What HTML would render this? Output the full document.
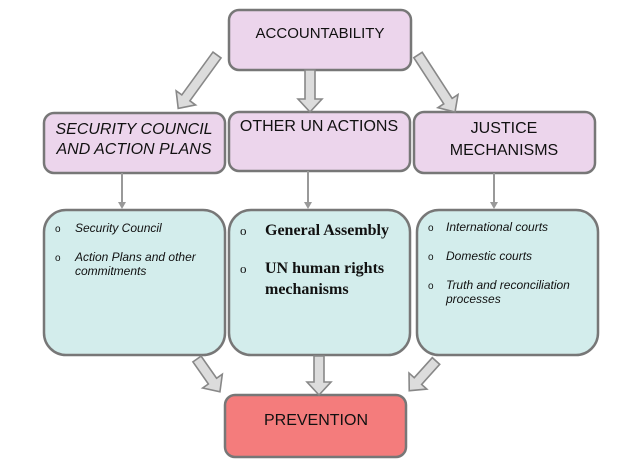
<!DOCTYPE html>
<html><head><meta charset="utf-8"><style>
html,body{margin:0;padding:0;background:#fff;width:639px;height:465px;overflow:hidden}
svg{display:block}
text{font-family:"Liberation Sans",sans-serif;fill:#111}
.serif{font-family:"Liberation Serif",serif}
</style></head><body>
<svg width="639" height="465" viewBox="0 0 639 465" xmlns="http://www.w3.org/2000/svg">
<defs>
<g id="fa"><polygon points="-5,0 5,0 5,-13 12,-13 0,0 -12,-13 -5,-13" transform="scale(1,-1)" /></g>
</defs>
<!-- boxes -->
<g stroke="#777" stroke-width="2.5">
<rect x="229" y="10" width="182" height="60" rx="10" fill="#ecd5ec"/>
<rect x="44" y="113" width="181" height="60" rx="10" fill="#ecd5ec"/>
<rect x="229" y="112" width="181" height="59" rx="10" fill="#ecd5ec"/>
<rect x="414" y="112" width="181" height="61" rx="10" fill="#ecd5ec"/>
<rect x="44" y="210" width="181" height="145" rx="22" fill="#d3edec"/>
<rect x="229" y="210" width="181" height="145" rx="22" fill="#d3edec"/>
<rect x="417" y="210" width="181" height="145" rx="22" fill="#d3edec"/>
<rect x="225" y="395" width="181" height="62" rx="10" fill="#f47c7c"/>
</g>
<!-- thin arrows -->
<g stroke="#999" stroke-width="2" fill="#999">
<line x1="122" y1="173" x2="122" y2="203"/><polygon points="118,202 126,202 122,209" stroke="none"/>
<line x1="308" y1="171" x2="308" y2="203"/><polygon points="304,202 312,202 308,209" stroke="none"/>
<line x1="494" y1="173" x2="494" y2="203"/><polygon points="490,202 498,202 494,209" stroke="none"/>
</g>
<!-- fat arrows: shaft from 0 to L-13 along +y -->
<g fill="#dcdcdc" stroke="#888" stroke-width="1.6" stroke-linejoin="miter">
<polygon transform="translate(217,55) rotate(36)" points="-5,0 5,0 5,53 12,53 0,66 -12,53 -5,53"/>
<polygon transform="translate(310,70)" points="-5,0 5,0 5,29 12,29 0,42 -12,29 -5,29"/>
<polygon transform="translate(418,55) rotate(-33)" points="-5,0 5,0 5,55 12,55 0,68 -12,55 -5,55"/>
<polygon transform="translate(197,359) rotate(-35)" points="-5,0 5,0 5,27 12,27 0,40 -12,27 -5,27"/>
<polygon transform="translate(319,356)" points="-5,0 5,0 5,26 12,26 0,39 -12,26 -5,26"/>
<polygon transform="translate(436,361) rotate(42)" points="-5,0 5,0 5,27 12,27 0,40 -12,27 -5,27"/>
</g>
<!-- labels -->
<text x="320" y="38" font-size="15" text-anchor="middle">ACCOUNTABILITY</text>
<text x="134" y="134" font-size="16" font-style="italic" text-anchor="middle">SECURITY COUNCIL</text>
<text x="134" y="154" font-size="16" font-style="italic" text-anchor="middle">AND ACTION PLANS</text>
<text x="319" y="131" font-size="16" text-anchor="middle">OTHER UN ACTIONS</text>
<text x="504" y="133" font-size="16" text-anchor="middle">JUSTICE</text>
<text x="504" y="155" font-size="16" text-anchor="middle">MECHANISMS</text>
<text x="316" y="425" font-size="16" text-anchor="middle">PREVENTION</text>
<!-- list left -->
<g font-size="12" font-style="italic">
<text x="55" y="232" font-style="normal" font-size="10">o</text><text x="75" y="232">Security Council</text>
<text x="55" y="261" font-style="normal" font-size="10">o</text><text x="75" y="261">Action Plans and other</text>
<text x="75" y="275">commitments</text>
</g>
<g font-size="16" class="serif">
<text x="240" y="235" class="serif" font-size="13">o</text><text x="265" y="235" class="serif" font-weight="bold">General Assembly</text>
<text x="240" y="273" class="serif" font-size="13">o</text><text x="265" y="273" class="serif" font-weight="bold">UN human rights</text>
<text x="265" y="294" class="serif" font-weight="bold">mechanisms</text>
</g>
<g font-size="12" font-style="italic">
<text x="428" y="231" font-style="normal" font-size="10">o</text><text x="446" y="231">International courts</text>
<text x="428" y="260" font-style="normal" font-size="10">o</text><text x="446" y="260">Domestic courts</text>
<text x="428" y="289" font-style="normal" font-size="10">o</text><text x="446" y="289">Truth and reconciliation</text>
<text x="446" y="303">processes</text>
</g>
</svg>
</body></html>
